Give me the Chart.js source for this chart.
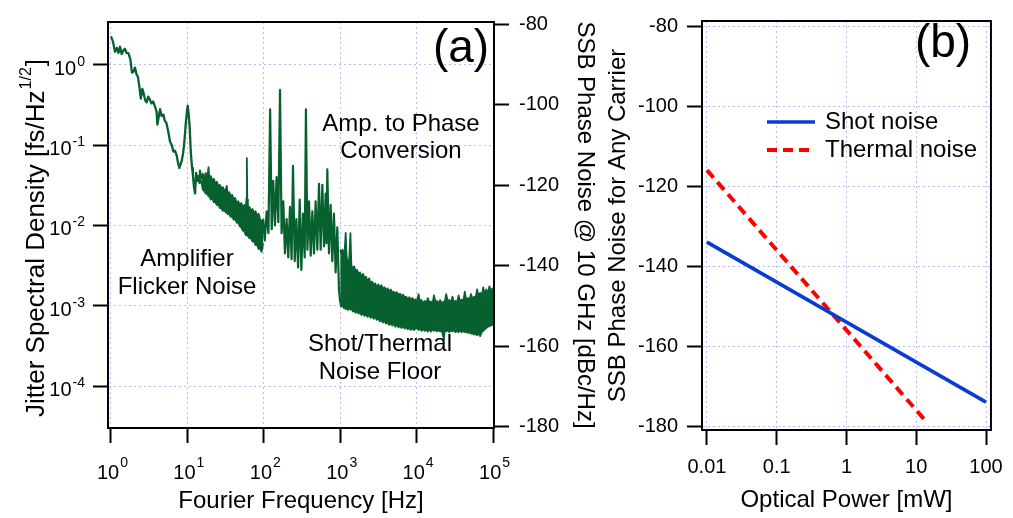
<!DOCTYPE html>
<html>
<head>
<meta charset="utf-8">
<script src="https://cdn.jsdelivr.net/npm/chart.js@4.4.1/dist/chart.umd.min.js"></script>
<style>
  html, body { margin: 0; padding: 0; background: #fff; }
  #wrap { position: relative; width: 1013px; height: 518px; overflow: hidden; }
  #chartA { position: absolute; left: 0; top: 0; }
  #chartB { position: absolute; left: 600px; top: 0; }
</style>
</head>
<body>
<div id="wrap">
  <canvas id="chartA" width="600" height="518"></canvas>
  <canvas id="chartB" width="413" height="518"></canvas>
</div>
<script>
const FONT = "'Liberation Sans', Arial, Helvetica, sans-serif";
Chart.defaults.font.family = FONT;
Chart.defaults.color = '#000';

const GREEN = '#07612f';
const BLUE = '#0a3ccf';
const RED = '#ff0000';
const GRID = 'rgba(160,160,250,0.75)';

// ---- panel (a): jitter spectrum ----
// 1 - 15 Hz: a single clean trace
const traceFreq = [
  1.00, 1.06, 1.13, 1.19, 1.25, 1.31, 1.38, 1.45, 1.52, 1.60,
  1.70, 1.80, 1.88, 1.97, 2.06, 2.16, 2.26, 2.36, 2.46, 2.57,
  2.68, 2.80, 2.93, 3.07, 3.22, 3.40, 3.56, 3.77, 3.95, 4.05,
  4.20, 4.39, 4.60, 4.85, 5.07, 5.30, 5.60, 5.93, 6.25, 6.55,
  6.90, 7.25, 7.55, 7.85, 8.15, 8.45, 8.80, 9.13, 9.50, 9.85,
  10.1, 10.4, 10.7, 11.1, 11.5, 11.8, 12.2, 12.6, 13.0, 13.5,
  13.9, 14.4, 14.6, 15.2
];
const traceJitter = [
  2.25, 1.95, 1.45, 1.62, 1.40, 1.68, 1.36, 1.50, 1.58, 1.40,
  1.38, 1.15, 0.80, 0.82, 0.92, 0.76, 0.70, 0.52, 0.38, 0.50,
  0.44, 0.36, 0.34, 0.40, 0.37, 0.33, 0.35, 0.30, 0.26, 0.18,
  0.22, 0.28, 0.23, 0.24, 0.20, 0.19, 0.15, 0.11, 0.10, 0.083,
  0.085, 0.074, 0.060, 0.052, 0.058, 0.064, 0.080, 0.11, 0.18, 0.26,
  0.31, 0.24, 0.17, 0.080, 0.052, 0.043, 0.030, 0.025, 0.045, 0.036,
  0.041, 0.034, 0.048, 0.038
];

// 15 - 100 Hz: dense noisy band, upper and lower edge
const lowBandFreq = [
  15.2, 15.9, 16.6, 17.3, 18.1, 18.9, 19.5, 20.3, 21.2, 22.2,
  23.2, 24.3, 25.4, 26.6, 27.8, 29.1, 30.4, 31.8, 32.8, 33.6,
  35.2, 36.8, 38.5, 40.3, 42.2, 44.2, 46.2, 48.4, 50.6, 53.0,
  55.4, 58.0, 59.4, 60.0, 60.8, 62.0, 65.0, 68.0, 71.2, 74.5,
  78.0, 81.6, 85.4, 89.4, 93.6, 98.0
];
const lowBandUpper = [
  0.040, 0.044, 0.037, 0.045, 0.038, 0.053, 0.037, 0.041, 0.036, 0.038,
  0.033, 0.035, 0.031, 0.032, 0.029, 0.030, 0.027, 0.028, 0.031, 0.025,
  0.026, 0.023, 0.024, 0.021, 0.022, 0.019, 0.020, 0.018, 0.019, 0.017,
  0.018, 0.016, 0.022, 0.069, 0.021, 0.016, 0.017, 0.015, 0.016, 0.014,
  0.015, 0.013, 0.014, 0.012, 0.011, 0.012
];
const lowBandLower = [
  0.036, 0.028, 0.027, 0.025, 0.025, 0.023, 0.023, 0.021, 0.0215, 0.0195,
  0.0195, 0.018, 0.018, 0.0165, 0.0165, 0.0152, 0.0155, 0.0145, 0.0148, 0.0138,
  0.014, 0.0128, 0.013, 0.0118, 0.012, 0.0108, 0.011, 0.0098, 0.0095, 0.0086,
  0.0085, 0.0076, 0.008, 0.0078, 0.0074, 0.0076, 0.0069, 0.007, 0.0063, 0.0064,
  0.0057, 0.0058, 0.0051, 0.0052, 0.0047, 0.0060
];

// 100 Hz - 1 kHz: spiky trace with line harmonics (alternating peaks and dips)
const midFreq = [
  98, 103, 109, 115, 121, 127, 133, 140, 147, 155,
  163, 171, 180, 189, 199, 209, 220, 231, 241, 254,
  267, 281, 295, 310, 326, 343, 356, 372, 391, 411,
  432, 454, 477, 502, 528, 555, 584, 614, 645, 661,
  678, 713, 750, 788, 828, 871, 916, 963, 1000
];
const midJitter = [
  0.012, 0.0065, 0.015, 0.008, 0.278, 0.009, 0.036, 0.010, 0.040, 0.011,
  0.485, 0.008, 0.020, 0.0045, 0.012, 0.0040, 0.017, 0.0038, 0.055, 0.0036,
  0.012, 0.0030, 0.021, 0.0028, 0.014, 0.0040, 0.278, 0.0050, 0.020, 0.0042,
  0.015, 0.0045, 0.020, 0.0050, 0.033, 0.0050, 0.032, 0.0055, 0.025, 0.0060,
  0.050, 0.0045, 0.018, 0.0036, 0.014, 0.0026, 0.0095, 0.0016, 0.0011
];

// 1 kHz - 100 kHz: shot/thermal noise floor, upper and lower edge of the band
const floorFreq = [
  1000, 1030, 1070, 1110, 1150, 1180, 1210, 1260, 1310, 1360,
  1400, 1460, 1520, 1590, 1660, 1740, 1820, 1900, 1990, 2080,
  2180, 2280, 2390, 2500, 2620, 2740, 2870, 3000, 3150, 3300,
  3460, 3620, 3800, 3980, 4170, 4370, 4580, 4800, 5030, 5270,
  5520, 5780, 6060, 6350, 6650, 6970, 7300, 7650, 8020, 8400,
  8800, 9220, 9660,
  10100, 10600, 11100, 11600, 12200, 12800, 13400, 14000, 14700, 15400,
  16100, 16900, 17700, 18500, 19400, 20300, 21300, 22300, 22800, 23300,
  24400, 25600, 26800, 28100, 29400, 30800, 32300, 33800, 35400, 37100,
  38900, 40700, 42700, 44700, 46800, 49100, 51400, 53800, 56400, 59100,
  61900, 64800, 67900, 71100, 74500, 78000, 81700, 85600, 89700, 94000,
  98400, 100000
];
const floorUpper = [
  0.0050, 0.0045, 0.0050, 0.0040, 0.0052, 0.0081, 0.0042, 0.0034, 0.0036, 0.0080,
  0.0032, 0.0029, 0.0031, 0.0027, 0.0028, 0.0025, 0.0026, 0.0023, 0.0025, 0.0022,
  0.0023, 0.0020, 0.0022, 0.0019, 0.0020, 0.0018, 0.0019, 0.0017, 0.00185, 0.0017,
  0.0018, 0.00165, 0.0017, 0.00155, 0.00165, 0.0015, 0.0016, 0.00145, 0.0015, 0.0014,
  0.00148, 0.00135, 0.00142, 0.0013, 0.00138, 0.00125, 0.0013, 0.0012, 0.00128, 0.00118,
  0.00125, 0.00115, 0.0012,
  0.0011, 0.0014, 0.00112, 0.00118, 0.00108, 0.00115, 0.00107, 0.00125, 0.0011, 0.00113,
  0.00106, 0.00135, 0.0011, 0.00115, 0.00105, 0.00118, 0.00108, 0.00112, 0.0011, 0.0011,
  0.0014, 0.00112, 0.00118, 0.00108, 0.0013, 0.0011, 0.00115, 0.00108, 0.00135, 0.00112,
  0.0012, 0.0011, 0.0015, 0.00115, 0.00125, 0.00118, 0.0014, 0.0012, 0.0013, 0.00125,
  0.0016, 0.0013, 0.00145, 0.0013, 0.0017, 0.00135, 0.0016, 0.0014, 0.00175, 0.0015,
  0.00165, 0.0016
];
const floorLower = [
  0.0011, 0.00098, 0.00102, 0.00094, 0.00098, 0.00091, 0.00096, 0.00089, 0.00094, 0.00090,
  0.00093, 0.00085, 0.00089, 0.00082, 0.00086, 0.00080, 0.00083, 0.00077, 0.00081, 0.00075,
  0.00079, 0.00073, 0.00077, 0.00071, 0.00075, 0.00069, 0.00073, 0.00067, 0.00070, 0.00064,
  0.00067, 0.00062, 0.00065, 0.00060, 0.00063, 0.00058, 0.00061, 0.00057, 0.00060, 0.00055,
  0.00059, 0.00054, 0.00057, 0.00053, 0.00056, 0.00052, 0.00055, 0.00051, 0.00054, 0.00050,
  0.00053, 0.00050, 0.00052,
  0.00053, 0.00050, 0.00053, 0.00049, 0.00051, 0.00049, 0.00051, 0.00048, 0.00051, 0.00048,
  0.00051, 0.00049, 0.00050, 0.00048, 0.00050, 0.00048, 0.00049, 0.00042, 0.00038, 0.00050,
  0.00048, 0.00050, 0.00047, 0.00050, 0.00048, 0.00050, 0.00047, 0.00049, 0.00047, 0.00050,
  0.00047, 0.00049, 0.00047, 0.00048, 0.00046, 0.00047, 0.00045, 0.00046, 0.00044, 0.00045,
  0.00043, 0.00046, 0.00042, 0.00047, 0.00049, 0.00051, 0.00053, 0.00055, 0.00056, 0.00057,
  0.00058, 0.00060
];

const freqTicks = [1, 10, 100, 1000, 10000, 100000];
const freqExp = ['0', '1', '2', '3', '4', '5'];
const jitterTicks = [1, 0.1, 0.01, 0.001, 0.0001];
const jitterExp = ['0', '-1', '-2', '-3', '-4'];
const dbcTicks = [-80, -100, -120, -140, -160, -180];

// ---- panel (b): shot and thermal noise vs optical power ----
const shotPower = [0.01, 0.1, 1, 10, 100];
const shotNoise = [-134, -144, -154, -164, -174];
const thermalPower = [0.01, 0.1, 1, 10, 13.9];
const thermalNoise = [-116, -136, -156, -176, -178.9];
const powerTicks = [0.01, 0.1, 1, 10, 100];
const powerTickLabels = ['0.01', '0.1', '1', '10', '100'];
const phaseTicks = [-80, -100, -120, -140, -160, -180];

const toXY = (xs, ys) => xs.map((x, i) => ({ x: x, y: ys[i] }));

// jitter in fs/Hz^1/2 maps to dBc/Hz at 10 GHz: 20*log10(J) - 90
const jMin = 3.02e-5, jMax = 3.40;

function gridOpts(tickLen) {
  return { color: GRID, lineWidth: 1, tickLength: tickLen, tickColor: '#000', tickWidth: 2 };
}
const borderOpts = { display: true, color: '#000', width: 2, dash: [2, 3] };

function line(label, xs, ys, width, extra) {
  return Object.assign({ label: label, data: toXY(xs, ys), borderColor: GREEN, borderWidth: width,
    borderJoinStyle: 'round', pointRadius: 0, fill: false }, extra || {});
}

function powLabel(ctx, x, baseY, expY, exp, align) {
  ctx.textBaseline = 'alphabetic';
  ctx.textAlign = 'left';
  ctx.font = '20px ' + FONT;
  const wb = ctx.measureText('10').width;
  ctx.font = '14px ' + FONT;
  const we = ctx.measureText(exp).width;
  const x0 = align === 'center' ? x - (wb + we) / 2 : x - wb - we;
  ctx.font = '20px ' + FONT;
  ctx.fillText('10', x0, baseY);
  ctx.font = '14px ' + FONT;
  ctx.fillText(exp, x0 + wb + 1, expY);
}

const panelA = {
  id: 'panelA',
  afterDraw(chart) {
    const { ctx, chartArea: a, scales } = chart;
    ctx.save();
    ctx.strokeStyle = '#000';
    ctx.lineWidth = 2;
    ctx.strokeRect(a.left, a.top, a.right - a.left, a.bottom - a.top);
    ctx.fillStyle = '#000';

    freqTicks.forEach((v, i) => {
      powLabel(ctx, scales.x.getPixelForValue(v) + 1, 479, 467, freqExp[i], 'center');
    });
    jitterTicks.forEach((v, i) => {
      const py = scales.y.getPixelForValue(v);
      powLabel(ctx, 84, py + 10, py + 1, jitterExp[i], 'right');
    });

    // left axis title with the 1/2 exponent
    ctx.save();
    ctx.translate(44, 239);
    ctx.rotate(-Math.PI / 2);
    const t1 = 'Jitter Spectral Density [fs/Hz', t2 = '1/2', t3 = ']';
    ctx.font = '26px ' + FONT;
    const w1 = ctx.measureText(t1).width, w3 = ctx.measureText(t3).width;
    ctx.font = '16px ' + FONT;
    const w2 = ctx.measureText(t2).width;
    const x0 = -(w1 + w2 + w3) / 2;
    ctx.textAlign = 'left';
    ctx.textBaseline = 'alphabetic';
    ctx.font = '26px ' + FONT;
    ctx.fillText(t1, x0, 0);
    ctx.font = '16px ' + FONT;
    ctx.fillText(t2, x0 + w1 + 1, -13);
    ctx.font = '26px ' + FONT;
    ctx.fillText(t3, x0 + w1 + w2 + 2, 0);
    ctx.restore();

    ctx.textAlign = 'center';
    ctx.textBaseline = 'middle';
    ctx.font = '24px ' + FONT;
    ctx.fillText('Amp. to Phase', 401, 124);
    ctx.fillText('Conversion', 401, 151);
    ctx.fillText('Amplifier', 187, 259);
    ctx.fillText('Flicker Noise', 187, 287);
    ctx.fillText('Shot/Thermal', 380, 344);
    ctx.fillText('Noise Floor', 380, 372);

    ctx.textBaseline = 'alphabetic';
    ctx.font = '46px ' + FONT;
    ctx.fillText('(a)', 461, 62);
    ctx.restore();
  }
};

new Chart(document.getElementById('chartA'), {
  type: 'line',
  data: {
    datasets: [
      line('trace', traceFreq, traceJitter, 2.3),
      line('low band top', lowBandFreq, lowBandUpper, 1.8),
      line('low band bottom', lowBandFreq, lowBandLower, 1.8, { fill: '-1', backgroundColor: GREEN }),
      line('harmonics', midFreq, midJitter, 2.2),
      line('floor top', floorFreq, floorUpper, 1.8),
      line('floor bottom', floorFreq, floorLower, 1.8, { fill: '-1', backgroundColor: GREEN })
    ]
  },
  options: {
    responsive: false,
    animation: false,
    layout: { padding: { top: 10, left: 0, right: 0, bottom: 0 } },
    plugins: { legend: { display: false }, tooltip: { enabled: false } },
    scales: {
      x: {
        type: 'logarithmic', position: 'bottom', bounds: 'data',
        min: 0.914, max: 1.03e5,
        afterBuildTicks: s => { s.ticks = freqTicks.map(v => ({ value: v })); },
        afterFit: s => { s.height = 90; },
        ticks: { display: false },
        grid: gridOpts(15),
        border: borderOpts,
        title: { display: true, text: 'Fourier Frequency [Hz]', font: { size: 24 }, padding: { top: 0, bottom: 2 } }
      },
      y: {
        type: 'logarithmic', position: 'left', bounds: 'data',
        min: jMin, max: jMax,
        afterBuildTicks: s => { s.ticks = jitterTicks.map(v => ({ value: v })); },
        afterFit: s => { s.width = 108; },
        ticks: { display: false },
        grid: gridOpts(15),
        border: borderOpts
      },
      y2: {
        type: 'linear', position: 'right', bounds: 'data',
        min: 20 * Math.log10(jMin) - 90, max: 20 * Math.log10(jMax) - 90,
        afterBuildTicks: s => { s.ticks = dbcTicks.map(v => ({ value: v })); },
        afterFit: s => { s.width = 106; },
        ticks: { font: { size: 20 }, padding: 10, autoSkip: false },
        grid: { drawOnChartArea: false, tickLength: 15, tickColor: '#000', tickWidth: 2 },
        border: { display: true, color: '#000', width: 2 },
        title: { display: true, text: 'SSB Phase Noise @ 10 GHz [dBc/Hz]', font: { size: 24 }, padding: { top: 1, bottom: 0 } }
      }
    }
  },
  plugins: [panelA]
});

const panelB = {
  id: 'panelB',
  afterDraw(chart) {
    const { ctx, chartArea: a } = chart;
    ctx.save();
    ctx.strokeStyle = '#000';
    ctx.lineWidth = 2;
    ctx.strokeRect(a.left, a.top, a.right - a.left, a.bottom - a.top);

    // legend inside the plot
    const rows = [122, 150];
    chart.data.datasets.forEach((ds, i) => {
      ctx.save();
      ctx.strokeStyle = ds.borderColor;
      ctx.lineWidth = ds.borderWidth;
      ctx.setLineDash(ds.borderDash || []);
      ctx.beginPath();
      ctx.moveTo(167, rows[i]);
      ctx.lineTo(i === 0 ? 215 : 209, rows[i]);
      ctx.stroke();
      ctx.restore();
      ctx.fillStyle = '#000';
      ctx.font = '24px ' + FONT;
      ctx.textAlign = 'left';
      ctx.textBaseline = 'middle';
      ctx.fillText(ds.label, 225, rows[i]);
    });

    ctx.fillStyle = '#000';
    ctx.textAlign = 'center';
    ctx.textBaseline = 'alphabetic';
    ctx.font = '46px ' + FONT;
    ctx.fillText('(b)', 343, 57);
    ctx.restore();
  }
};

new Chart(document.getElementById('chartB'), {
  type: 'line',
  data: {
    datasets: [
      { label: 'Shot noise', data: toXY(shotPower, shotNoise), borderColor: BLUE, borderWidth: 3.5,
        pointRadius: 0, fill: false },
      { label: 'Thermal noise', data: toXY(thermalPower, thermalNoise), borderColor: RED, borderWidth: 4,
        borderDash: [10, 6], pointRadius: 0, fill: false }
    ]
  },
  options: {
    responsive: false,
    animation: false,
    layout: { padding: { top: 8, left: 0, right: 18, bottom: 0 } },
    plugins: { legend: { display: false }, tooltip: { enabled: false } },
    scales: {
      x: {
        type: 'logarithmic', position: 'bottom', bounds: 'data',
        min: 0.0085, max: 117.7,
        afterBuildTicks: s => { s.ticks = powerTicks.map(v => ({ value: v })); },
        afterFit: s => { s.height = 88; },
        ticks: { font: { size: 20 }, padding: 10, autoSkip: false, maxRotation: 0,
                 callback: (v, i) => powerTickLabels[i] },
        grid: gridOpts(15),
        border: borderOpts,
        title: { display: true, text: 'Optical Power [mW]', font: { size: 24 }, padding: { top: 0, bottom: 3 } }
      },
      y: {
        type: 'linear', position: 'left', bounds: 'data',
        min: -180.97, max: -78.72,
        afterBuildTicks: s => { s.ticks = phaseTicks.map(v => ({ value: v })); },
        afterFit: s => { s.width = 102; },
        ticks: { font: { size: 20 }, padding: 9, autoSkip: false },
        grid: gridOpts(15),
        border: borderOpts,
        title: { display: true, text: 'SSB Phase Noise for Any Carrier', font: { size: 24 }, padding: { top: 4, bottom: 0 } }
      }
    }
  },
  plugins: [panelB]
});
</script>
</body>
</html>
